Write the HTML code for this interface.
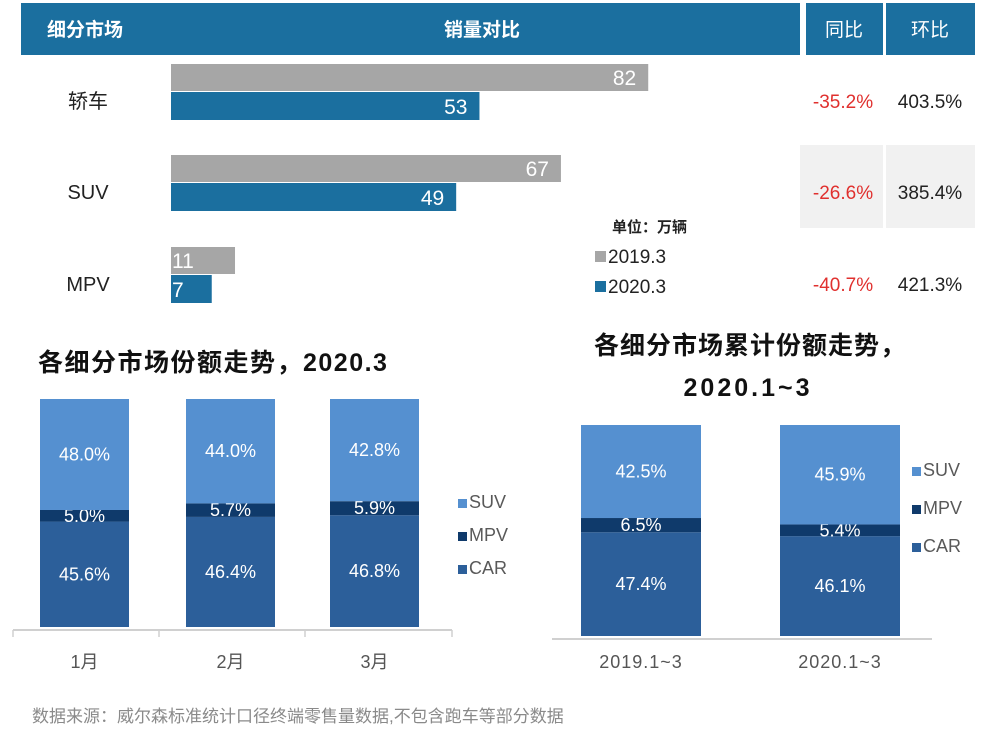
<!DOCTYPE html>
<html><head><meta charset="utf-8">
<style>
html,body{margin:0;padding:0;background:#fff;}
body{width:993px;height:737px;overflow:hidden;font-family:"Liberation Sans","Noto Sans CJK SC",sans-serif;}
</style></head>
<body>
<svg id="s" width="993" height="737" xmlns="http://www.w3.org/2000/svg" style="font-family:'Liberation Sans','Noto Sans CJK SC',sans-serif">
<rect x="21" y="3" width="779" height="52" fill="#1b6f9f"/>
<rect x="806" y="3" width="77" height="52" fill="#1b6f9f"/>
<rect x="886" y="3" width="89" height="52" fill="#1b6f9f"/>
<text x="85" y="36" fill="#fff" font-size="19" font-weight="bold" text-anchor="middle">细分市场</text>
<text x="482" y="36" fill="#fff" font-size="19" font-weight="bold" text-anchor="middle">销量对比</text>
<text x="844" y="36" fill="#fff" font-size="19" text-anchor="middle">同比</text>
<text x="930" y="36" fill="#fff" font-size="19" text-anchor="middle">环比</text>
<rect x="800" y="145" width="83" height="83" fill="#f1f1f1"/>
<rect x="886" y="145" width="89" height="83" fill="#f1f1f1"/>
<g id="topbars"></g>
<text x="612" y="232" font-size="15" font-weight="bold" fill="#222">单位：万辆</text>
<rect x="595" y="251" width="11" height="11" fill="#a6a6a6"/>
<text x="608" y="263" font-size="19" fill="#222">2019.3</text>
<rect x="595" y="281" width="11" height="11" fill="#1b6f9f"/>
<text x="608" y="293" font-size="19" fill="#222">2020.3</text>

<text x="38" y="371" font-size="25" font-weight="bold" fill="#111" letter-spacing="1.5">各细分市场份额走势，2020.3</text>
<text x="750" y="354" font-size="25" font-weight="bold" fill="#111" text-anchor="middle" letter-spacing="1">各细分市场累计份额走势，</text>
<text x="748" y="396" font-size="25" font-weight="bold" fill="#111" text-anchor="middle" letter-spacing="3">2020.1~3</text>
<g id="leftchart"></g>
<g id="rightchart"></g>
<text x="32" y="722" font-size="17" fill="#8a8a8a">数据来源：威尔森标准统计口径终端零售量数据,不包含跑车等部分数据</text>
</svg>
<script>
const segments = ["轿车","SUV","MPV"];
const sales2019 = [82,67,11];
const sales2020 = [53,49,7];
const yoy = ["-35.2%","-26.6%","-40.7%"];
const mom = ["403.5%","385.4%","421.3%"];

const monthCats = ["1月","2月","3月"];
const monthCar = [45.6,46.4,46.8];
const monthMpv = [5.0,5.7,5.9];
const monthSuv = [48.0,44.0,42.8];

const cumCats = ["2019.1~3","2020.1~3"];
const cumCar = [47.4,46.1];
const cumMpv = [6.5,5.4];
const cumSuv = [42.5,45.9];

const NS="http://www.w3.org/2000/svg";
function mk(tag,attrs,parent,txt){const e=document.createElementNS(NS,tag);for(const k in attrs)e.setAttribute(k,attrs[k]);if(txt!==undefined)e.textContent=txt;parent.appendChild(e);return e;}

const topG=document.getElementById('topbars');
const x0=171, sx=v=>v*5.82;
const rowY=[64,155,247];
segments.forEach((s,i)=>{
  const y=rowY[i];
  let t=mk('text',{x:88,y:y+44,'font-size':20,fill:'#222','text-anchor':'middle'},topG,s);
  
  
  let r=mk('rect',{x:x0,y:y,width:sx(sales2019[i]),height:27,fill:'#a6a6a6'},topG);
  
  
  let r2=mk('rect',{x:x0,y:y+28,width:sx(sales2020[i]),height:28,fill:'#1b6f9f'},topG);
  
  
  const small=sales2019[i]<20;
  let l1=mk('text',{x:small?x0+1:x0+sx(sales2019[i])-12,y:y+21,'font-size':21,fill:'#fff','text-anchor':small?'start':'end'},topG,String(sales2019[i]));
  
  
  let l2=mk('text',{x:small?x0+1:x0+sx(sales2020[i])-12,y:y+50,'font-size':21,fill:'#fff','text-anchor':small?'start':'end'},topG,String(sales2020[i]));
  
  
  let a=mk('text',{x:843,y:y+44,'font-size':19,fill:'#e0302e','text-anchor':'middle'},topG,yoy[i]);
  
  
  let b=mk('text',{x:930,y:y+44,'font-size':19,fill:'#222','text-anchor':'middle'},topG,mom[i]);
  
  
});

const C_SUV='#5590d0',C_MPV='#0f3a6b',C_CAR='#2c5f9a';
function stacked(g,cats,car,mpv,suv,o){
  const H=o.bottom-o.top;
  cats.forEach((c,i)=>{
    const tot=car[i]+mpv[i]+suv[i];
    const hc=car[i]/tot*H, hm=mpv[i]/tot*H, hs=suv[i]/tot*H;
    const x=o.xs[i];
    const segs=[[car[i],o.bottom-hc,hc,C_CAR,'car'],[mpv[i],o.bottom-hc-hm,hm,C_MPV,'mpv'],[suv[i],o.top,hs,C_SUV,'suv']];
    segs.forEach(sg=>{
      let r=mk('rect',{x:x,y:sg[1],width:o.w,height:sg[2],fill:sg[3]},g);
      
      
      let t=mk('text',{x:x+o.w/2,y:sg[1]+sg[2]/2+6,'font-size':18,fill:'#fff','text-anchor':'middle'},g,sg[0].toFixed(1)+'%');
      
      
    });
    let cl=mk('text',{x:x+o.w/2,y:o.catY,'font-size':18,fill:'#555','text-anchor':'middle','letter-spacing':o.ls||0},g,c);
    
    
  });
  let ax=mk('line',{x1:o.ax0,x2:o.ax1,y1:o.bottom+3,y2:o.bottom+3,stroke:'#d0d0d0','stroke-width':2},g);
  
  
  (o.ticks||[]).forEach(tx=>{mk('line',{x1:tx,x2:tx,y1:o.bottom+3,y2:o.bottom+10,stroke:'#d0d0d0','stroke-width':1.5},g);});
  [['SUV',C_SUV],['MPV',C_MPV],['CAR',C_CAR]].forEach((l,k)=>{
    const y=o.legY[k];
    let sq=mk('rect',{x:o.legX,y:y-9,width:9,height:9,fill:l[1]},g);
    
    
    let lt=mk('text',{x:o.legX+11,y:y,'font-size':18,fill:'#595959'},g,l[0]);
    
    
  });
}
stacked(document.getElementById('leftchart'),monthCats,monthCar,monthMpv,monthSuv,
  {top:399,bottom:627,xs:[40,186,330],w:89,catY:668,ax0:13,ax1:452,ticks:[13,159,305,452],legX:458,legY:[508,541,574]});
stacked(document.getElementById('rightchart'),cumCats,cumCar,cumMpv,cumSuv,
  {top:425,bottom:636,xs:[581,780],w:120,catY:668,ls:1,ax0:552,ax1:932,ticks:[],legX:912,legY:[476,514,552]});
</script>
</body></html>
